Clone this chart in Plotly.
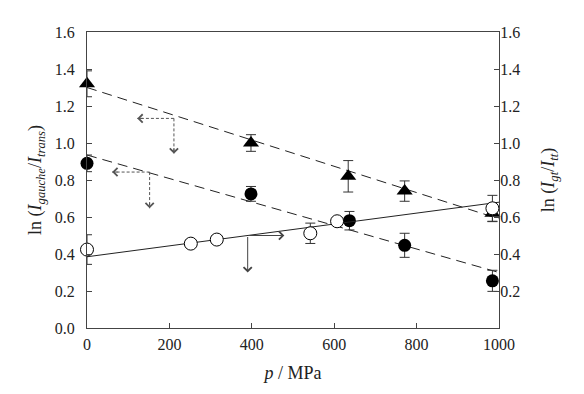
import plotly.graph_objects as go

# ---- data ----
p_tri = [0, 398, 634, 771, 984]
ln_tri = [1.32, 1.00, 0.82, 0.74, 0.62]
err_tri = [0.07, 0.045, 0.085, 0.055, 0.045]

p_fill = [0, 398, 637, 771, 984]
ln_fill = [0.89, 0.725, 0.58, 0.447, 0.255]
err_fill = [0.045, 0.04, 0.05, 0.065, 0.057]

p_open = [0, 252, 315, 542, 607, 984]
ln_open = [0.424, 0.456, 0.478, 0.512, 0.577, 0.647]
err_open = [0.08, 0.02, 0.02, 0.055, 0.02, 0.07]

fit_p = [0, 1000]
fit_tri = [1.30, 0.59]
fit_fill = [0.935, 0.30]
fit_open = [0.385, 0.68]

# arrows: (corner p, corner ln, horizontal tip p, vertical tip ln)
arrow_tri = (211, 1.133, 122, 0.942)
arrow_fill = (152, 0.843, 61, 0.647)
arrow_open = (390, 0.50, 479, 0.30)

y_ticks = [0.0, 0.2, 0.4, 0.6, 0.8, 1.0, 1.2, 1.4, 1.6]
y2_ticks = [0.2, 0.4, 0.6, 0.8, 1.0, 1.2, 1.4, 1.6]
x_ticks = [0, 200, 400, 600, 800, 1000]

FONT = "Liberation Serif, Times New Roman, serif"
AX = "#444444"

fig = go.Figure()

# fit lines
fig.add_trace(go.Scatter(x=fit_p, y=fit_tri, mode="lines",
                         line=dict(color="#222", width=1, dash="10px,6px"),
                         hoverinfo="skip", showlegend=False, cliponaxis=False))
fig.add_trace(go.Scatter(x=fit_p, y=fit_fill, mode="lines",
                         line=dict(color="#222", width=1, dash="10px,6px"),
                         hoverinfo="skip", showlegend=False, cliponaxis=False))

err_style = dict(type="data", visible=True, color="#333", thickness=1, width=5)

fig.add_trace(go.Scatter(x=p_tri, y=ln_tri, mode="markers",
                         marker=dict(symbol="triangle-up", size=14, color="black"),
                         error_y=dict(array=err_tri, **err_style),
                         showlegend=False, cliponaxis=False))
fig.add_trace(go.Scatter(x=p_fill, y=ln_fill, mode="markers",
                         marker=dict(symbol="circle", size=13, color="black"),
                         error_y=dict(array=err_fill, **err_style),
                         showlegend=False, cliponaxis=False))

# right-axis series
fig.add_trace(go.Scatter(x=fit_p, y=fit_open, mode="lines", yaxis="y2",
                         line=dict(color="#222", width=1),
                         hoverinfo="skip", showlegend=False, cliponaxis=False))
fig.add_trace(go.Scatter(x=p_open, y=ln_open, mode="markers", yaxis="y2",
                         marker=dict(symbol="circle", size=13, color="white",
                                     line=dict(color="black", width=1)),
                         error_y=dict(array=err_open, **err_style),
                         showlegend=False, cliponaxis=False))

shapes = []
annotations = []

def dashed_arrow(a):
    cx, cy, hx, vy = a
    shapes.append(dict(type="line", xref="x", yref="y", x0=cx, y0=cy, x1=hx, y1=cy,
                       line=dict(color="#555", width=1, dash="3px,2px")))
    shapes.append(dict(type="line", xref="x", yref="y", x0=cx, y0=cy, x1=cx, y1=vy,
                       line=dict(color="#555", width=1, dash="3px,2px")))
    annotations.append(dict(x=hx, y=cy, xref="x", yref="y", text="", showarrow=True,
                            ax=7, ay=0, arrowhead=4, arrowsize=1.6, arrowwidth=1,
                            arrowcolor="#555"))
    annotations.append(dict(x=cx, y=vy, xref="x", yref="y", text="", showarrow=True,
                            ax=0, ay=-7, arrowhead=4, arrowsize=1.6, arrowwidth=1,
                            arrowcolor="#555"))

def solid_arrow(a):
    cx, cy, hx, vy = a
    annotations.append(dict(x=hx, y=cy, xref="x", yref="y", text="", showarrow=True,
                            axref="x", ayref="y", ax=cx, ay=cy, arrowhead=4,
                            arrowsize=1.6, arrowwidth=1, arrowcolor="#444"))
    annotations.append(dict(x=cx, y=vy, xref="x", yref="y", text="", showarrow=True,
                            axref="x", ayref="y", ax=cx, ay=cy, arrowhead=4,
                            arrowsize=1.6, arrowwidth=1, arrowcolor="#444"))

dashed_arrow(arrow_tri)
dashed_arrow(arrow_fill)
solid_arrow(arrow_open)

tickfont = dict(family=FONT, size=16, color="#222")

fig.update_layout(
    width=584, height=394,
    margin=dict(l=79, r=93, t=24, b=74, autoexpand=False),
    paper_bgcolor="white", plot_bgcolor="white",
    font=dict(family=FONT, color="#222"),
    shapes=shapes, annotations=annotations,
    xaxis=dict(range=[0, 1000], tickvals=x_ticks, ticktext=[str(v) for v in x_ticks],
               ticks="inside", ticklen=5, tickcolor=AX, showline=True, linecolor=AX,
               linewidth=1, mirror=True, showgrid=False, zeroline=False,
               tickfont=tickfont, ticklabelstandoff=2, automargin=False,
               title=dict(text="<i>p</i> / MPa", font=dict(family=FONT, size=18),
                          standoff=14)),
    yaxis=dict(range=[0, 1.6], tickvals=y_ticks, ticktext=[f"{v:.1f}" for v in y_ticks],
               ticks="inside", ticklen=5, tickcolor=AX, showline=True, linecolor=AX,
               linewidth=1, showgrid=False, zeroline=False, tickfont=tickfont,
               ticklabelstandoff=8, automargin=False,
               title=dict(text="ln (<i>I</i><sub><i>gauche</i></sub>/<i>I</i><sub><i>trans</i></sub>)",
                          font=dict(family=FONT, size=18), standoff=8)),
    yaxis2=dict(range=[0, 1.6], overlaying="y", side="right", tickvals=y2_ticks,
                ticktext=[f"{v:.1f}" for v in y2_ticks],
                ticks="inside", ticklen=5, tickcolor=AX, showline=True, linecolor=AX,
                linewidth=1, showgrid=False, zeroline=False, tickfont=tickfont,
                ticklabelstandoff=-3, automargin=False,
                title=dict(text="ln (<i>I</i><sub><i>gt</i></sub>/<i>I</i><sub><i>tt</i></sub>)",
                           font=dict(family=FONT, size=18), standoff=22)),
)

fig.write_html("out.html")
